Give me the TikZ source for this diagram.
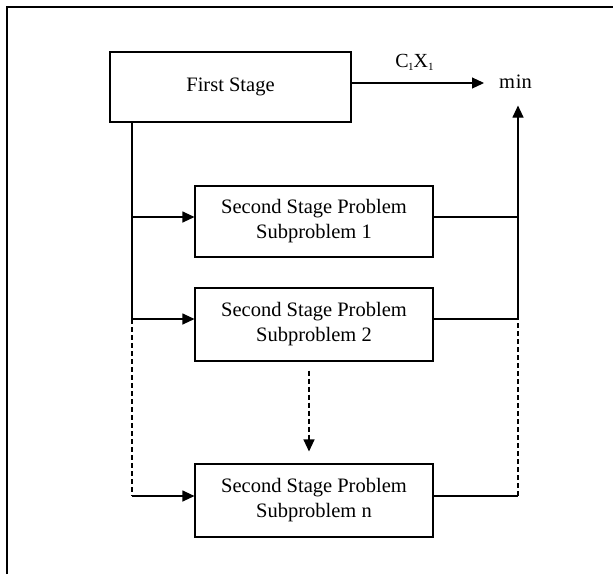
\documentclass[tikz,border=0pt]{standalone}
\usepackage{fontspec}
\setmainfont{Liberation Serif}
\usetikzlibrary{arrows.meta}
\begin{document}
\begin{tikzpicture}[x=1pt,y=-1pt,
  every path/.style={line width=1.1pt},
  box/.style={draw,line width=1.1pt,inner sep=0pt,align=center,
    font=\fontsize{20.5}{25}\selectfont},
  tip/.style={-{Triangle[length=12pt,width=11pt]}},
  dsh/.style={dash pattern=on 5pt off 3pt}]
\useasboundingbox (0,0) rectangle (613,574);
% outer frame (open to right and bottom)
\draw (7,574) -- (7,7) -- (613,7);
% nodes
\node[box,minimum width=241pt,minimum height=70pt] (fs) at (230.5,87) {First Stage};
\node[box,minimum width=238pt,minimum height=71pt] (s1) at (314,221.5) {Second Stage Problem\\Subproblem 1};
\node[box,minimum width=238pt,minimum height=73pt] (s2) at (314,324.5) {Second Stage Problem\\Subproblem 2};
\node[box,minimum width=238pt,minimum height=73pt] (sn) at (314,500.5) {Second Stage Problem\\Subproblem n};
\node[anchor=base,inner xsep=14.5pt,inner ysep=17pt,text height=10pt,text depth=0pt,
  font=\fontsize{20.5}{25}\selectfont] (min) at (515.5,88) {m\kern1pt in};
\node[anchor=base,inner sep=0pt,font=\fontsize{20}{24}\selectfont] (cx) at (414.5,67)
  {C\kern-0.5pt\raisebox{-3pt}{\fontsize{11}{12}\selectfont 1}X\raisebox{-3pt}{\fontsize{11}{12}\selectfont 1}};
% junction points
\coordinate (l1) at (132,217);
\coordinate (l2) at (132,319);
\coordinate (ln) at (132,496);
\coordinate (r1) at (518,217);
\coordinate (r2) at (518,319);
\coordinate (rn) at (518,496);
% first stage to min
\draw[tip] (fs.east |- min.west) -- (min.west);
% left distribution line
\draw (fs.south -| l1) -- (l1) -- (l2);
\draw[dsh] (l2) -- (ln);
\draw[tip] (l1) -- (l1 -| s1.west);
\draw[tip] (l2) -- (l2 -| s2.west);
\draw[tip] (ln) -- (ln -| sn.west);
% right collection line
\draw (s1.east |- r1) -- (r1);
\draw (s2.east |- r2) -- (r2);
\draw (sn.east |- rn) -- (rn);
\draw[dsh] (rn) -- (r2);
\draw[tip] (r2) -- (r1) -- (r1 |- min.south);
% dashed arrow between subproblems
\draw[tip,dsh,shorten <=9pt,shorten >=12pt] ([xshift=-5pt]s2.south) -- ([xshift=-5pt]sn.north);
\end{tikzpicture}
\end{document}
